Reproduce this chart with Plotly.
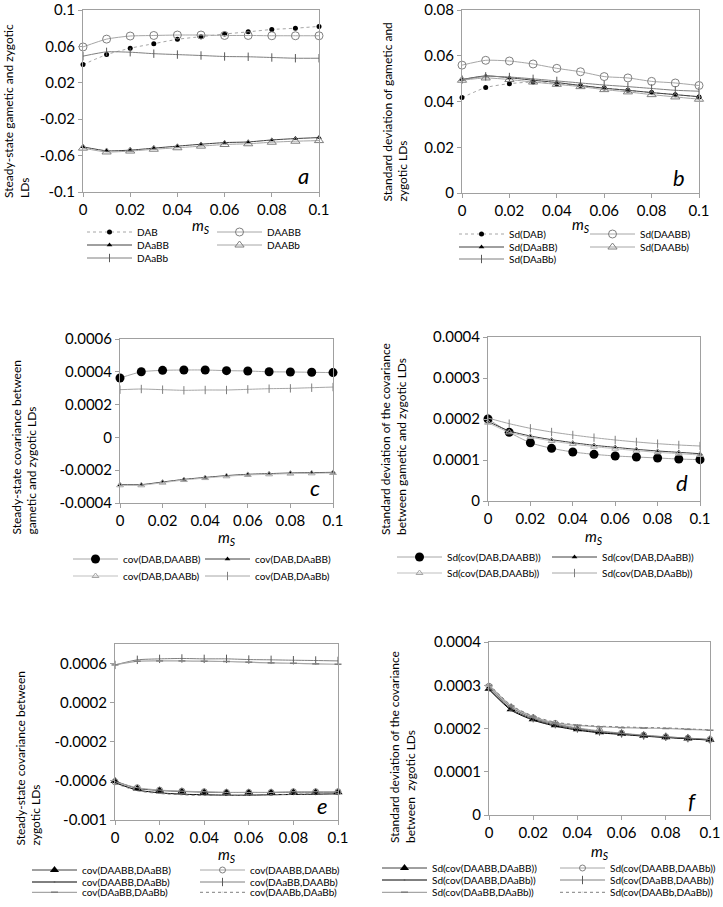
import plotly.graph_objects as go

W, H = 723, 907
OFF = 0
FONT = "Lato"
ITEMW = 45

ms = [0, 0.01, 0.02, 0.03, 0.04, 0.05, 0.06, 0.07, 0.08, 0.09, 0.1]
x_ticks = [0, 0.02, 0.04, 0.06, 0.08, 0.1]
x_ticktext = ["0", "0.02", "0.04", "0.06", "0.08", "0.1"]

# panel a
DAB = [0.040, 0.051, 0.058, 0.063, 0.0678, 0.0707, 0.0736, 0.076, 0.0786, 0.080, 0.082]
DAABB = [0.0594, 0.068, 0.0714, 0.072, 0.0725, 0.0725, 0.072, 0.072, 0.0717, 0.0717, 0.0717]
DAaBB = [-0.0504, -0.0547, -0.054, -0.0518, -0.0496, -0.0475, -0.0457, -0.045, -0.0428, -0.0413, -0.0402]
DAABb = [-0.0518, -0.056, -0.055, -0.053, -0.0514, -0.0496, -0.0478, -0.047, -0.0453, -0.0442, -0.0435]
DAaBb = [0.0493, 0.054, 0.0536, 0.052, 0.051, 0.050, 0.0489, 0.0486, 0.0478, 0.047, 0.047]
a_yticks = [-0.1, -0.06, -0.02, 0.02, 0.06, 0.1]
a_yticktext = ["-0.1", "-0.06", "-0.02", "0.02", "0.06", "0.1"]

# panel b
sd_DAB = [0.0417, 0.0461, 0.0478, 0.0485, 0.0478, 0.0470, 0.0459, 0.0449, 0.0439, 0.0430, 0.0420]
sd_DAABB = [0.0559, 0.058, 0.0577, 0.0564, 0.0545, 0.053, 0.0509, 0.0503, 0.0488, 0.0481, 0.047]
sd_DAaBB = [0.0496, 0.0512, 0.0504, 0.0493, 0.0483, 0.047, 0.0458, 0.0449, 0.0439, 0.043, 0.0421]
sd_DAABb = [0.0493, 0.0503, 0.0496, 0.0485, 0.0475, 0.0465, 0.0452, 0.0442, 0.043, 0.042, 0.041]
sd_DAaBb = [0.0496, 0.051, 0.0507, 0.0499, 0.049, 0.0481, 0.0472, 0.0465, 0.0457, 0.0449, 0.0445]
b_yticks = [0, 0.02, 0.04, 0.06, 0.08]
b_yticktext = ["0", "0.02", "0.04", "0.06", "0.08"]

# panel c
cov_DAB_DAABB = [0.000362, 0.0004, 0.000409, 0.000411, 0.000411, 0.000407, 0.000405, 0.0004, 0.000399, 0.000397, 0.000395]
cov_DAB_DAaBB = [-0.000288, -0.000288, -0.000272, -0.000256, -0.000244, -0.000233, -0.000225, -0.000221, -0.000217, -0.000215, -0.000213]
cov_DAB_DAABb = [-0.000292, -0.000292, -0.000276, -0.00026, -0.000248, -0.000237, -0.000229, -0.000225, -0.000221, -0.000219, -0.000217]
cov_DAB_DAaBb = [0.000291, 0.000295, 0.000291, 0.000287, 0.000289, 0.000289, 0.000293, 0.000297, 0.000299, 0.000303, 0.000307]
c_yticks = [-0.0004, -0.0002, 0, 0.0002, 0.0004, 0.0006]
c_yticktext = ["-0.0004", "-0.0002", "0", "0.0002", "0.0004", "0.0006"]

# panel d
sd_cov_DAB_DAABB = [0.0002, 0.0001675, 0.000142, 0.0001285, 0.0001195, 0.0001138, 0.0001098, 0.0001073, 0.0001049, 0.0001024, 0.0001008]
sd_cov_DAB_DAaBB = [0.000194, 0.000171, 0.0001585, 0.0001496, 0.0001423, 0.0001358, 0.0001309, 0.000126, 0.000122, 0.0001187, 0.0001154]
sd_cov_DAB_DAABb = [0.000191, 0.0001675, 0.000156, 0.0001463, 0.000139, 0.0001325, 0.0001276, 0.0001228, 0.0001187, 0.0001154, 0.0001122]
sd_cov_DAB_DAaBb = [0.0002024, 0.0001886, 0.0001772, 0.0001683, 0.000161, 0.0001545, 0.0001488, 0.000144, 0.0001398, 0.0001366, 0.0001341]
d_yticks = [0, 0.0001, 0.0002, 0.0003, 0.0004]
d_yticktext = ["0", "0.0001", "0.0002", "0.0003", "0.0004"]

# panel e
cov_DAABB_DAaBB = [-0.000602, -0.000677, -0.000698, -0.000708, -0.000715, -0.000718, -0.000718, -0.000718, -0.000715, -0.000715, -0.000715]
cov_DAABB_DAABb = [-0.000609, -0.00067, -0.000694, -0.000705, -0.000711, -0.000718, -0.000718, -0.000718, -0.000711, -0.000711, -0.000711]
cov_DAABB_DAaBb = [-0.000619, -0.000694, -0.000722, -0.000736, -0.000742, -0.000746, -0.000746, -0.000742, -0.000739, -0.000736, -0.000732]
cov_DAaBB_DAABb = [0.000586, 0.000638, 0.000648, 0.000652, 0.000648, 0.000648, 0.000641, 0.000638, 0.000634, 0.000631, 0.000627]
cov_DAaBB_DAaBb = [0.000586, 0.000624, 0.000627, 0.000627, 0.000624, 0.000621, 0.000614, 0.000607, 0.000603, 0.000597, 0.000593]
cov_DAABb_DAaBb = [-0.000626, -0.000701, -0.000729, -0.000742, -0.000749, -0.000749, -0.000746, -0.000742, -0.000736, -0.000732, -0.000729]
e_yticks = [-0.001, -0.0006, -0.0002, 0.0002, 0.0006]
e_yticktext = ["-0.001", "-0.0006", "-0.0002", "0.0002", "0.0006"]

# panel f
sd_cov_DAABB_DAaBB = [0.000292, 0.0002446, 0.0002215, 0.0002077, 0.0001985, 0.0001915, 0.0001877, 0.0001831, 0.00018, 0.0001769, 0.0001738]
sd_cov_DAABB_DAABb = [0.0002977, 0.0002485, 0.0002246, 0.0002115, 0.0002015, 0.0001946, 0.0001892, 0.0001846, 0.0001808, 0.0001777, 0.0001746]
sd_cov_DAABB_DAaBb = [0.00029, 0.0002423, 0.0002192, 0.0002054, 0.0001962, 0.00019, 0.0001862, 0.0001823, 0.0001792, 0.0001762, 0.0001731]
sd_cov_DAaBB_DAABb = [0.0002946, 0.0002485, 0.0002238, 0.00021, 0.0002, 0.0001931, 0.0001885, 0.0001838, 0.0001808, 0.0001777, 0.0001746]
sd_cov_DAaBB_DAaBb = [0.0003, 0.000252, 0.000227, 0.000213, 0.000207, 0.000204, 0.000202, 0.000201, 0.0002, 0.000198, 0.000196]
sd_cov_DAABb_DAaBb = [0.0003023, 0.0002538, 0.0002285, 0.0002146, 0.0002085, 0.0002054, 0.0002038, 0.0002023, 0.0002015, 0.0001992, 0.0001969]
f_yticks = [0, 0.0001, 0.0002, 0.0003, 0.0004]
f_yticktext = ["0", "0.0001", "0.0002", "0.0003", "0.0004"]

# ---------- styles ----------
GRAY = "#a6a6a6"
MID = "#7f7f7f"
DARK = "#404040"
AXIS = "#a0a0a0"

STY = {
    "dot_black": dict(line=dict(color=GRAY, width=1, dash="dot"),
                      marker=dict(symbol="circle", size=5, color="black")),
    "big_black": dict(line=dict(color=GRAY, width=1),
                      marker=dict(symbol="circle", size=9, color="black")),
    "open_circle": dict(line=dict(color=GRAY, width=1),
                        marker=dict(symbol="circle-open", size=8, color=MID, line=dict(width=1))),
    "small_open_circle": dict(line=dict(color=GRAY, width=1),
                              marker=dict(symbol="circle-open", size=6, color=MID, line=dict(width=1))),
    "black_tri": dict(line=dict(color=DARK, width=1),
                      marker=dict(symbol="triangle-up", size=5, color="black")),
    "big_black_tri": dict(line=dict(color=DARK, width=1),
                          marker=dict(symbol="triangle-up", size=8, color="black")),
    "open_tri": dict(line=dict(color=GRAY, width=1),
                     marker=dict(symbol="triangle-up-open", size=8, color=MID, line=dict(width=1))),
    "light_open_tri": dict(line=dict(color="#bfbfbf", width=1),
                           marker=dict(symbol="triangle-up-open", size=6, color=GRAY, line=dict(width=1))),
    "plus": dict(line=dict(color=MID, width=1),
                 marker=dict(symbol="line-ns", size=6, color="#595959", line=dict(width=1, color="#595959"))),
    "plus_light": dict(line=dict(color=GRAY, width=1),
                       marker=dict(symbol="line-ns", size=6, color=MID, line=dict(width=1, color=MID))),
    "black_line": dict(line=dict(color="black", width=1), marker=dict(size=1, opacity=0)),
    "dash_marker": dict(line=dict(color=GRAY, width=1.2),
                        marker=dict(symbol="line-ew", size=5, color=MID, line=dict(width=1.5, color=MID))),
    "dotted": dict(line=dict(color=MID, width=1, dash="dot"), marker=dict(size=1, opacity=0)),
}


def px(v):
    return (v - OFF) / W


def py(v):
    return 1 - (v - OFF) / H


# panels: plot box in px (x0, x1, y_top, y_bottom)
panels = [
    dict(box=(83, 319, 10, 192), yr=[-0.1, 0.1], yt=a_yticks, ytt=a_yticktext, lab="a", labpos=(303, 176),
         ytitle="Steady-state gametic and zygotic<br>LDs", yt_pos=(16, 200), xt_y=226),
    dict(box=(462, 699, 10, 193), yr=[0, 0.08], yt=b_yticks, ytt=b_yticktext, lab="b", labpos=(679, 177),
         ytitle="Standard deviation of gametic and<br>zygotic LDs", yt_pos=(395, 203), xt_y=225),
    dict(box=(120, 333, 339, 503), yr=[-0.0004, 0.0006], yt=c_yticks, ytt=c_yticktext, lab="c", labpos=(315, 488),
         ytitle="Steady-state covariance between<br>gametic and zygotic LDs", yt_pos=(24, 537), xt_y=538),
    dict(box=(488, 700, 337, 501), yr=[0, 0.0004], yt=d_yticks, ytt=d_yticktext, lab="d", labpos=(682, 483),
         ytitle="Standard deviation of the covariance<br>between gametic and zygotic LDs", yt_pos=(393, 537), xt_y=537),
    dict(box=(115, 338, 644, 820), yr=[-0.001, 0.0008], yt=e_yticks, ytt=e_yticktext, lab="e", labpos=(322, 805),
         ytitle="Steady-state covariance between<br>zygotic LDs", yt_pos=(28, 848), xt_y=855),
    dict(box=(489, 710, 642, 815), yr=[0, 0.0004], yt=f_yticks, ytt=f_yticktext, lab="f", labpos=(692, 800),
         ytitle="Standard deviation of the covariance<br>between  zygotic LDs", yt_pos=(402, 845), xt_y=852),
]

# series: panel index, name, values, style, legend (row_y_px, text_start_x_px)
series = [
    (0, "DAB", DAB, "dot_black", (232, 137)),
    (0, "DAABB", DAABB, "open_circle", (232, 267)),
    (0, "DAaBB", DAaBB, "black_tri", (245, 137)),
    (0, "DAABb", DAABb, "open_tri", (245, 267)),
    (0, "DAaBb", DAaBb, "plus", (258, 137)),
    (1, "Sd(DAB)", sd_DAB, "dot_black", (234, 509)),
    (1, "Sd(DAABB)", sd_DAABB, "open_circle", (234, 640)),
    (1, "Sd(DAaBB)", sd_DAaBB, "black_tri", (247, 509)),
    (1, "Sd(DAABb)", sd_DAABb, "open_tri", (247, 640)),
    (1, "Sd(DAaBb)", sd_DAaBb, "plus", (259, 509)),
    (2, "cov(DAB,DAABB)", cov_DAB_DAABB, "big_black", (559, 123)),
    (2, "cov(DAB,DAaBB)", cov_DAB_DAaBB, "black_tri", (559, 255)),
    (2, "cov(DAB,DAABb)", cov_DAB_DAABb, "light_open_tri", (576, 123)),
    (2, "cov(DAB,DAaBb)", cov_DAB_DAaBb, "plus_light", (576, 255)),
    (3, "Sd(cov(DAB,DAABB))", sd_cov_DAB_DAABB, "big_black", (557, 447)),
    (3, "Sd(cov(DAB,DAaBB))", sd_cov_DAB_DAaBB, "black_tri", (557, 602)),
    (3, "Sd(cov(DAB,DAABb))", sd_cov_DAB_DAABb, "light_open_tri", (573, 447)),
    (3, "Sd(cov(DAB,DAaBb))", sd_cov_DAB_DAaBb, "plus_light", (573, 602)),
    (4, "cov(DAABB,DAaBB)", cov_DAABB_DAaBB, "big_black_tri", (870, 82)),
    (4, "cov(DAABB,DAABb)", cov_DAABB_DAABb, "small_open_circle", (870, 250)),
    (4, "cov(DAABB,DAaBb)", cov_DAABB_DAaBb, "black_line", (882, 82)),
    (4, "cov(DAaBB,DAABb)", cov_DAaBB_DAABb, "plus", (882, 250)),
    (4, "cov(DAaBB,DAaBb)", cov_DAaBB_DAaBb, "dash_marker", (892.3, 82)),
    (4, "cov(DAABb,DAaBb)", cov_DAABb_DAaBb, "dotted", (892.3, 250)),
    (5, "Sd(cov(DAABB,DAaBB))", sd_cov_DAABB_DAaBB, "big_black_tri", (868, 432)),
    (5, "Sd(cov(DAABB,DAABb))", sd_cov_DAABB_DAABb, "small_open_circle", (868, 610)),
    (5, "Sd(cov(DAABB,DAaBb))", sd_cov_DAABB_DAaBb, "black_line", (880, 432)),
    (5, "Sd(cov(DAaBB,DAABb))", sd_cov_DAaBB_DAABb, "plus", (880, 610)),
    (5, "Sd(cov(DAaBB,DAaBb))", sd_cov_DAaBB_DAaBb, "dash_marker", (892.3, 432)),
    (5, "Sd(cov(DAABb,DAaBb))", sd_cov_DAABb_DAaBb, "dotted", (892.3, 610)),
]

fig = go.Figure()
layout = dict(
    width=W, height=H, margin=dict(l=0, r=0, t=0, b=0, autoexpand=False),
    paper_bgcolor="white", plot_bgcolor="white",
    font=dict(family=FONT, color="black"),
    showlegend=True,
)
annotations = []

for i, p in enumerate(panels):
    k = "" if i == 0 else str(i + 1)
    x0, x1, y0, y1 = p["box"]
    layout["xaxis" + k] = dict(
        domain=[px(x0), px(x1)], anchor="y" + k, range=[0, 0.1],
        tickvals=x_ticks, ticktext=x_ticktext,
        showline=True, linecolor=AXIS, linewidth=1, mirror=True,
        ticks="outside", ticklen=4, tickcolor=AXIS,
        showgrid=False, zeroline=False, ticklabeloverflow="allow",
        tickfont=dict(size=15, family=FONT, color="black"),
    )
    layout["yaxis" + k] = dict(
        domain=[py(y1), py(y0)], anchor="x" + k, range=p["yr"],
        tickvals=p["yt"], ticktext=p["ytt"],
        showline=True, linecolor=AXIS, linewidth=1, mirror=True,
        ticks="outside", ticklen=4, tickcolor=AXIS,
        showgrid=False, zeroline=False, ticklabeloverflow="allow",
        tickfont=dict(size=15, family=FONT, color="black"),
    )
    lx, ly = p["labpos"]
    annotations.append(dict(text="<i>" + p["lab"] + "</i>", x=px(lx), y=py(ly),
                            xref="paper", yref="paper", showarrow=False,
                            font=dict(size=22, family=FONT), xanchor="center", yanchor="middle"))
    tx, ty = p["yt_pos"]
    annotations.append(dict(text=p["ytitle"], x=px(tx), y=py(ty), xref="paper", yref="paper",
                            showarrow=False, textangle=-90, align="left",
                            xanchor="center", yanchor="bottom",
                            font=dict(size=12, family=FONT)))
    annotations.append(dict(text="<i>m<sub>S</sub></i>", x=px((x0 + x1) / 2), y=py(p["xt_y"]),
                            xref="paper", yref="paper", showarrow=False,
                            xanchor="center", yanchor="middle", font=dict(size=15, family=FONT)))

for j, (pi, name, vals, sty, (ry, tx)) in enumerate(series):
    k = "" if pi == 0 else str(pi + 1)
    lg = "legend" if j == 0 else "legend" + str(j + 1)
    st = STY[sty]
    fig.add_trace(go.Scatter(
        x=ms, y=vals, name=name, mode="lines+markers",
        line=dict(shape="spline", smoothing=0.6, **st["line"]),
        marker=st["marker"], xaxis="x" + k, yaxis="y" + k,
        legend=lg, cliponaxis=False, showlegend=True,
    ))
    layout[lg] = dict(x=px(tx - ITEMW - 10), y=py(ry), xanchor="left", yanchor="middle",
                      bgcolor="rgba(0,0,0,0)", borderwidth=0, itemwidth=ITEMW,
                      font=dict(size=10, family=FONT), itemclick=False, itemdoubleclick=False)

layout["annotations"] = annotations
fig.update_layout(**layout)
# the page's default body margin would offset the chart by 8px; remove it
fig.write_html("out.html", config={"displayModeBar": False},
               post_script="document.body.style.margin='0px';document.documentElement.style.margin='0px';")
